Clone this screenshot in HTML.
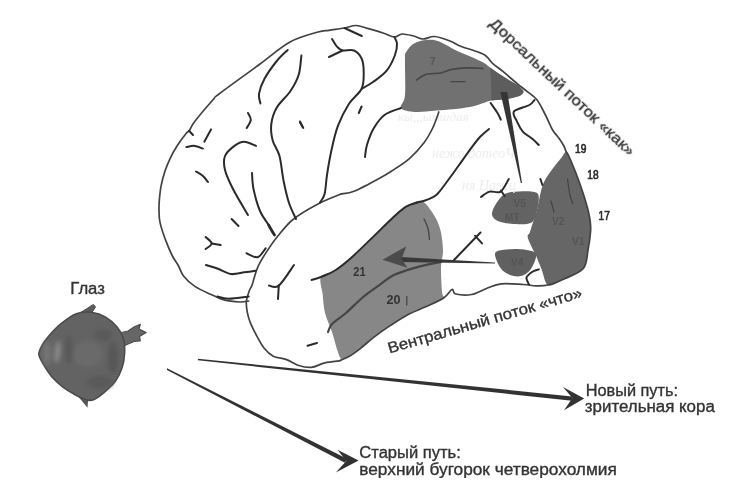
<!DOCTYPE html>
<html><head><meta charset="utf-8">
<style>
html,body{margin:0;padding:0;background:#fff;}
svg{display:block}
text{font-family:"Liberation Sans",sans-serif;fill:#333;stroke:#333;stroke-width:0.35}
.l{fill:none;stroke:#424242;stroke-width:1.7;stroke-linecap:round;stroke-linejoin:round}
.s{fill:none;stroke:#2c2c2c;stroke-width:2.0;stroke-linecap:round;stroke-linejoin:round}
.d{fill:none;stroke:#454545;stroke-width:1.3;stroke-linecap:round;stroke-linejoin:round}
.n{font-size:12px;fill:#2e2e2e;stroke:#2e2e2e;stroke-width:0.7}
.m{font-size:12.8px;font-weight:bold;fill:#333;stroke:none}
.v{font-size:10px;font-weight:bold;fill:#555;stroke:none}
</style></head><body>
<svg width="731" height="490" viewBox="0 0 731 490">
<defs>
<radialGradient id="eg" cx="0.55" cy="0.5" r="0.6">
<stop offset="0" stop-color="#5e5e5e"/><stop offset="0.7" stop-color="#505050"/><stop offset="1" stop-color="#6a6a6a"/>
</radialGradient>
<filter id="bl" x="-5%" y="-5%" width="110%" height="110%"><feGaussianBlur stdDeviation="0.6"/></filter>
<filter id="bl3" x="-30%" y="-30%" width="160%" height="160%"><feGaussianBlur stdDeviation="2.2"/></filter>
<filter id="bl2" x="-5%" y="-5%" width="110%" height="110%"><feGaussianBlur stdDeviation="0.45"/></filter>
</defs>
<rect width="731" height="490" fill="#fff"/>

<g filter="url(#bl)">
<path fill="#717171" d="M406.5,51.5 C408.3,48.6 411.2,44.4 416.0,42.5 C420.8,40.6 428.1,38.9 435.0,40.3 C441.9,41.7 450.5,47.9 457.3,51.0 C464.1,54.1 471.4,56.9 476.0,59.0 C480.6,61.1 482.7,62.1 485.0,63.5 C487.3,64.9 487.7,65.8 490.0,67.5 C492.3,69.2 495.3,71.4 498.6,73.6 C501.9,75.8 506.7,78.7 510.0,80.7 C513.3,82.7 516.3,83.9 518.6,85.7 C520.9,87.5 523.4,89.7 523.6,91.4 C523.8,93.1 523.0,94.4 520.0,95.7 C517.0,97.0 510.5,98.5 505.7,99.3 C500.9,100.1 497.3,99.2 491.4,100.5 C485.4,101.8 479.1,105.3 470.0,107.0 C460.9,108.7 446.0,109.8 436.8,110.6 C427.6,111.4 421.0,112.4 415.0,112.0 C409.0,111.6 402.7,110.7 401.0,108.0 C399.3,105.3 404.3,103.6 405.0,95.6 C405.7,87.6 404.8,67.3 405.0,60.0 C405.2,52.6 404.7,54.4 406.5,51.5 Z"/>
<path fill="#878787" d="M321.0,277.0 C323.1,273.1 330.0,273.7 335.0,270.5 C340.0,267.3 345.1,263.2 351.0,258.0 C356.9,252.8 363.5,246.2 370.5,239.4 C377.5,232.7 387.1,223.0 393.0,217.5 C398.9,212.0 401.3,209.3 406.0,206.6 C410.7,203.8 416.7,200.1 421.0,201.0 C425.3,201.9 428.8,207.4 432.0,212.0 C435.2,216.6 438.2,222.2 440.0,228.5 C441.8,234.8 442.8,243.6 443.0,250.0 C443.2,256.4 441.2,260.0 441.0,267.0 C440.8,274.0 441.7,286.7 442.0,292.0 C442.3,297.3 445.7,296.5 443.0,299.0 C440.3,301.5 431.6,304.2 425.7,306.8 C419.8,309.4 413.7,311.5 407.7,314.7 C401.7,317.9 395.4,322.2 389.8,325.9 C384.2,329.6 378.9,333.4 374.0,337.1 C369.1,340.8 364.7,345.1 360.6,348.3 C356.5,351.5 352.6,354.4 349.4,356.2 C346.2,358.0 343.5,359.9 341.5,359.0 C339.5,358.1 339.2,355.5 337.6,351.0 C336.0,346.5 334.1,338.3 332.0,332.0 C329.9,325.7 326.6,319.4 325.0,313.0 C323.4,306.6 323.3,299.8 322.6,293.8 C321.9,287.8 318.9,280.9 321.0,277.0 Z"/>
<path fill="#666666" d="M566.0,151.4 C567.4,151.1 567.5,153.3 569.0,156.5 C570.5,159.7 573.0,165.7 575.0,170.8 C577.0,175.9 579.0,181.2 581.0,187.0 C583.0,192.8 585.3,200.0 586.8,205.5 C588.3,211.0 589.4,215.6 590.0,219.8 C590.6,224.1 590.9,226.0 590.6,231.0 C590.3,236.0 589.2,243.8 588.0,250.0 C586.8,256.2 587.3,263.7 583.3,268.5 C579.3,273.3 569.8,276.2 564.0,279.0 C558.2,281.8 552.1,287.1 548.4,285.5 C544.7,283.9 543.7,274.3 541.6,269.4 C539.5,264.4 538.3,261.0 536.0,255.8 C533.7,250.6 528.9,242.0 527.9,238.0 C526.9,234.0 529.0,235.1 530.0,232.0 C531.0,228.9 532.8,223.0 534.0,219.3 C535.2,215.6 536.2,213.1 537.0,210.0 C537.8,206.9 538.2,204.2 538.9,201.0 C539.6,197.8 540.1,194.3 541.0,191.0 C541.9,187.7 542.6,184.7 544.5,181.0 C546.4,177.3 549.9,172.5 552.6,168.8 C555.3,165.1 558.6,161.5 560.8,158.6 C563.0,155.7 564.6,151.8 566.0,151.4 Z"/>
<path fill="#646464" d="M492.0,214.7 C491.5,211.7 493.9,207.2 496.0,203.8 C498.1,200.4 500.9,196.1 504.6,194.0 C508.3,191.9 513.0,191.8 518.0,191.5 C523.0,191.2 531.2,190.9 534.7,192.0 C538.2,193.1 538.6,194.2 538.8,198.0 C539.0,201.8 537.4,210.5 536.0,214.7 C534.6,218.9 534.0,221.4 530.6,223.0 C527.2,224.6 520.9,224.2 515.6,224.0 C510.3,223.8 502.9,223.2 499.0,221.6 C495.1,220.0 492.5,217.7 492.0,214.7 Z"/>
<path fill="#606060" d="M495.0,254.0 C495.2,251.0 498.2,250.8 502.0,250.0 C505.8,249.2 512.8,248.7 518.0,249.0 C523.2,249.3 530.0,250.3 533.0,251.6 C536.0,252.9 536.4,254.0 536.0,257.0 C535.6,260.0 533.1,266.2 530.6,269.4 C528.1,272.6 524.4,275.1 521.0,276.0 C517.6,276.9 513.4,276.3 510.0,275.0 C506.6,273.7 503.0,271.5 500.5,268.0 C498.0,264.5 494.8,257.0 495.0,254.0 Z"/>
</g>
<g filter="url(#bl)" style="font-family:Liberation Serif,serif;font-style:italic;font-size:13px;fill:#eeeeee;stroke:none"><text x="398" y="121" style="font-family:Liberation Serif;font-style:italic;font-size:13px;fill:#ededed;stroke:none">кы,,,ымшдая</text><text x="432" y="158" style="font-family:Liberation Serif;font-style:italic;font-size:14px;fill:#ededed;stroke:none">нежо  дотеоЧ</text><text x="462" y="190" style="font-family:Liberation Serif;font-style:italic;font-size:14px;fill:#ededed;stroke:none">ня Цажц</text></g><path fill="#5d5d5d" filter="url(#bl)" d="M490,67.5 L498.6,73.6 L510,80.7 L518.6,85.7 L523.6,91.4 L520,95.7 L505.7,99.3 L491.4,100.5 L491,80 Z"/>
<g filter="url(#bl2)">
<path class="l" d="M248.7,301.0 C247.2,301.2 243.9,302.2 239.8,302.0 C235.7,301.8 228.9,301.2 224.0,299.9 C219.1,298.6 215.4,296.6 210.6,294.3 C205.8,292.1 199.4,289.4 194.9,286.4 C190.4,283.4 186.5,279.9 183.7,276.3 C180.9,272.7 179.9,268.4 178.0,265.0 C176.1,261.6 174.5,260.1 172.4,256.0 C170.3,251.9 167.8,246.0 165.7,240.4 C163.6,234.8 161.1,227.5 160.0,222.4 C158.9,217.3 159.1,214.1 159.0,210.0 C158.9,205.9 159.1,202.1 159.5,198.0 C159.9,193.9 160.3,189.8 161.2,185.3 C162.1,180.8 163.5,175.5 165.0,171.0 C166.5,166.5 168.2,162.5 170.2,158.3 C172.2,154.1 174.4,150.1 177.0,146.0 C179.6,141.9 183.8,136.3 185.9,133.7 C188.0,131.1 188.0,132.4 189.5,130.3 C191.0,128.2 191.0,126.3 194.9,121.3 C198.8,116.2 208.8,104.5 212.8,100.0 C216.8,95.5 211.1,100.0 219.0,94.0 C226.9,88.0 248.2,72.7 260.0,64.0 C271.8,55.3 280.3,47.3 290.0,42.0 C299.7,36.7 311.5,34.0 318.0,32.0 C324.5,30.1 324.6,31.0 329.0,30.3 C333.4,29.6 340.0,28.8 344.5,28.0 C349.0,27.2 352.2,25.4 356.0,25.5 C359.8,25.6 363.0,27.1 367.5,28.4 C372.0,29.6 378.5,31.6 383.0,33.0 C387.5,34.4 391.2,36.8 394.4,37.0 C397.6,37.2 398.8,34.2 402.0,34.0 C405.2,33.8 410.1,35.2 413.6,36.0 C417.1,36.8 419.5,38.9 423.0,39.0 C426.5,39.1 430.2,36.2 434.7,36.5 C439.2,36.8 445.8,39.4 450.0,41.0 C454.2,42.6 455.8,44.3 460.0,46.0 C464.2,47.7 470.7,49.4 475.0,51.0 C479.3,52.6 482.7,53.6 485.7,55.7 C488.7,57.8 490.0,61.0 492.9,63.6 C495.8,66.2 498.9,68.1 502.9,71.4 C506.9,74.7 513.1,80.3 517.1,83.6 C521.1,86.9 523.8,88.7 527.1,91.4 C530.4,94.1 534.0,96.0 537.1,100.0 C540.2,104.0 543.1,110.5 545.7,115.5 C548.3,120.5 550.4,126.2 552.6,130.0 C554.8,133.8 556.9,135.3 558.8,138.0 C560.7,140.7 562.7,143.8 563.9,146.0 C565.1,148.2 565.1,149.7 566.0,151.4 C566.9,153.2 567.5,153.3 569.0,156.5 C570.5,159.7 573.0,165.7 575.0,170.8 C577.0,175.9 579.0,181.2 581.0,187.0 C583.0,192.8 585.3,200.0 586.8,205.5 C588.3,211.0 589.4,215.6 590.0,219.8 C590.6,224.1 590.9,226.0 590.6,231.0 C590.3,236.0 589.2,243.8 588.0,250.0 C586.8,256.2 587.3,263.7 583.3,268.5 C579.3,273.3 569.9,276.2 564.0,279.0 C558.1,281.8 552.7,283.9 548.0,285.0 C543.3,286.1 539.9,285.9 535.8,285.8 C531.7,285.7 529.1,284.8 523.4,284.5 C517.6,284.2 507.4,283.1 501.3,283.8 C495.2,284.5 491.4,286.7 486.5,288.5 C481.6,290.3 476.8,293.6 471.7,294.5 C466.6,295.4 459.0,294.8 455.7,294.0 C452.4,293.2 454.0,288.8 452.0,289.5 C450.0,290.2 448.0,295.1 443.6,298.0 C439.2,300.9 431.7,304.0 425.7,306.8 C419.7,309.6 413.7,311.5 407.7,314.7 C401.7,317.9 395.4,322.2 389.8,325.9 C384.2,329.6 378.9,333.4 374.0,337.1 C369.1,340.8 364.7,345.1 360.6,348.3 C356.5,351.5 352.8,354.2 349.4,356.2 C346.0,358.2 342.0,359.5 340.5,360.2"/>
<path class="l" d="M341.0,194.0 C337.2,195.7 325.9,199.8 318.0,204.0 C310.1,208.2 300.3,213.7 293.6,219.0 C286.9,224.3 282.4,230.6 277.9,236.0 C273.4,241.4 270.1,246.4 266.7,251.6 C263.3,256.8 260.1,261.7 257.7,267.3 C255.2,272.9 253.3,281.5 252.0,285.3 C250.7,289.1 250.5,287.4 249.6,290.0 C248.7,292.6 246.8,297.5 246.4,301.2 C246.0,304.9 246.6,308.6 247.3,312.4 C248.0,316.1 249.0,319.6 250.7,323.7 C252.4,327.8 255.1,333.0 257.4,337.1 C259.6,341.2 261.6,345.1 264.2,348.3 C266.8,351.5 269.5,354.3 273.2,356.2 C276.9,358.1 282.5,358.1 286.6,359.6 C290.7,361.1 293.7,363.9 297.8,365.2 C301.9,366.5 306.8,367.8 311.3,367.4 C315.8,367.0 319.9,364.0 324.8,362.9 C329.7,361.8 337.9,361.1 340.5,360.7"/>
<path class="l" d="M341.0,194.0 C343.3,193.5 348.2,193.7 354.7,191.0 C361.2,188.3 373.8,181.4 380.0,178.0 C386.2,174.6 387.1,174.0 392.0,170.8 C396.9,167.6 404.1,163.3 409.4,158.6 C414.7,153.9 420.1,147.8 424.0,142.7 C427.9,137.6 430.2,133.1 432.7,128.0 C435.2,122.9 437.8,114.7 438.8,112.0"/>
<path class="s" d="M344.5,28.0 L361.8,36.0"/>
<path class="s" d="M394.4,37.0 C394.8,38.1 396.9,40.8 397.0,43.8 C397.1,46.8 396.7,50.5 395.0,55.0 C393.3,59.5 390.4,66.1 386.7,70.6 C383.0,75.1 377.1,79.0 373.0,82.0 C368.9,85.0 363.7,87.7 361.8,88.8"/>
<path class="s" d="M332.0,39.0 C332.8,40.3 335.2,44.7 337.0,46.6 C338.8,48.5 339.8,49.9 342.6,50.5 C345.4,51.1 350.8,49.1 354.0,50.5 C357.2,51.9 360.2,55.3 361.8,59.0 C363.4,62.7 363.7,67.5 363.7,72.5 C363.7,77.5 364.1,83.5 361.6,88.7 C359.2,93.9 352.9,97.6 349.0,103.8 C345.1,110.0 340.9,118.0 338.0,125.7 C335.1,133.4 333.3,141.8 331.5,150.0 C329.7,158.2 328.1,167.7 327.0,175.0 C325.9,182.3 325.8,189.4 324.6,194.0 C323.4,198.6 320.8,201.1 320.0,202.5"/>
<path class="s" d="M342.6,50.5 L329.0,57.0"/>
<path class="s" d="M361.6,106.5 L358.8,113.0"/>
<path class="s" d="M401.0,108.0 C398.3,109.1 389.3,111.4 384.8,114.7 C380.3,118.0 376.9,123.0 373.9,128.0 C370.9,133.0 368.5,140.0 367.0,144.8 C365.5,149.6 365.3,155.0 365.0,157.0"/>
<path class="s" d="M489.0,129.0 C487.6,130.2 483.5,133.2 480.4,136.5 C477.3,139.8 474.3,143.9 470.6,148.8 C466.9,153.7 462.5,160.3 458.4,166.0 C454.3,171.7 449.7,178.2 446.0,183.0 C442.3,187.8 439.6,192.2 436.3,195.0 C433.1,197.8 429.8,198.7 426.5,200.0 C423.2,201.3 418.3,202.2 416.7,202.7"/>
<path class="s" d="M490.6,103.0 C491.8,104.8 496.1,110.7 497.8,113.5 C499.5,116.3 500.3,118.6 500.8,119.6"/>
<path class="s" d="M534.5,100.0 C533.6,100.8 532.8,103.1 529.4,105.0 C526.0,106.9 516.1,108.6 514.0,111.4 C511.9,114.2 515.5,118.2 517.0,121.6 C518.5,125.0 520.5,129.0 523.0,131.8 C525.5,134.6 529.4,136.3 532.0,138.5 C534.6,140.7 537.7,143.9 538.8,145.0"/>
<path class="s" d="M481.0,197.0 C482.4,196.1 486.3,192.5 489.6,191.6 C492.9,190.7 497.4,193.7 500.6,191.6 C503.8,189.5 507.4,181.1 508.8,179.0"/>
<path class="s" d="M500.9,190.5 L504.6,196.0"/>
<path class="s" d="M454.0,260.0 L480.5,232.5"/>
<path class="s" d="M475.0,235.7 L482.0,243.4"/>
<path class="s" d="M529.0,284.5 C528.6,283.4 526.0,279.7 526.5,277.6 C527.0,275.5 530.0,273.4 532.0,272.0 C534.0,270.6 537.7,269.8 538.8,269.4"/>
<path class="s" d="M287.7,50.0 C285.9,51.8 280.7,56.2 276.8,61.0 C272.9,65.8 267.5,73.3 264.5,78.8 C261.5,84.3 259.7,89.8 259.0,93.9 C258.3,98.0 260.2,101.8 260.4,103.4"/>
<path class="s" d="M301.4,55.6 C300.9,58.8 300.5,68.8 298.7,74.7 C296.9,80.6 294.1,85.5 290.5,91.0 C286.9,96.5 280.0,102.0 276.8,107.5 C273.6,113.0 272.0,118.5 271.3,124.0 C270.6,129.5 271.3,135.1 272.7,140.4 C274.1,145.7 277.7,149.2 279.5,156.0 C281.3,162.8 282.0,173.2 283.6,181.0 C285.2,188.8 286.9,196.7 289.0,203.0 C291.1,209.3 294.8,216.3 296.0,219.0"/>
<path class="s" d="M248.0,113.0 C248.5,114.2 251.0,117.4 250.8,119.9 C250.6,122.4 247.4,126.7 246.7,128.0"/>
<path class="s" d="M300.0,122.6 L303.3,128.0"/>
<path class="s" d="M211.0,129.4 L204.3,141.7"/>
<path class="s" d="M189.0,130.8 L193.0,135.0"/>
<path class="s" d="M186.5,147.0 C187.9,146.8 191.9,145.6 194.7,145.9 C197.4,146.2 201.6,148.2 203.0,148.6"/>
<path class="s" d="M196.0,171.5 C197.2,172.2 201.0,174.2 203.0,176.0 C205.0,177.8 207.2,181.0 208.0,182.0"/>
<path class="s" d="M248.0,215.0 C245.5,210.7 236.8,196.5 233.0,189.0 C229.2,181.5 226.3,175.5 225.0,170.0 C223.7,164.5 223.4,160.0 225.0,156.0 C226.6,152.0 231.2,148.3 234.4,145.9 C237.6,143.5 240.4,141.8 244.0,141.8 C247.6,141.8 254.0,145.2 256.0,145.9"/>
<path class="s" d="M252.0,173.0 C252.2,175.7 252.2,182.7 253.5,189.0 C254.8,195.3 257.5,205.0 260.0,211.0 C262.5,217.0 266.3,221.2 268.6,225.0 C270.9,228.8 273.1,232.5 274.0,234.0"/>
<path class="s" d="M231.6,219.0 L238.5,226.0"/>
<path class="s" style="stroke-width:2.8" d="M268.6,225.0 C269.2,226.0 271.0,229.3 272.0,231.0 C273.0,232.7 274.1,234.3 274.5,235.0"/>
<path class="s" d="M540.4,179.0 L542.4,185.0"/>
<path class="s" d="M205.6,237.0 C206.6,238.1 211.7,241.4 211.7,243.4 C211.7,245.4 206.6,248.1 205.6,249.0"/>
<path class="s" d="M211.7,243.4 L220.7,245.0"/>
<path class="s" d="M246.5,253.2 C248.4,253.9 254.5,258.0 257.7,257.2 C260.9,256.4 264.3,249.8 265.6,248.3"/>
<path class="s" style="stroke-width:2.1" d="M206.0,265.0 C207.9,265.6 213.2,267.0 217.3,268.5 C221.4,270.0 226.3,273.4 230.8,274.0 C235.3,274.6 240.2,272.9 244.3,272.3 C248.4,271.8 253.6,271.0 255.5,270.7"/>
<path class="s" d="M217.3,296.5 C219.2,296.9 223.3,298.7 228.5,298.7 C233.7,298.7 245.3,296.9 248.7,296.5"/>
<path class="s" d="M269.0,285.6 C270.6,285.6 274.6,289.0 278.8,285.6 C283.0,282.2 291.5,268.4 294.0,265.0"/>
<path class="s" d="M278.8,285.6 L278.0,299.0"/>
<path class="s" d="M307.5,345.8 L317.0,343.0"/>
<path class="s" d="M311.6,280.0 C313.2,279.5 317.1,278.6 321.0,277.0 C324.9,275.4 330.0,273.7 335.0,270.5 C340.0,267.3 345.1,263.2 351.0,258.0 C356.9,252.8 363.5,246.2 370.5,239.4 C377.5,232.7 387.1,223.0 393.0,217.5 C398.9,212.0 402.1,209.1 406.0,206.6 C409.9,204.1 414.9,203.3 416.7,202.7"/>
<path class="s" d="M300.0,121.5 L302.7,127.0"/>
<path class="d" style="stroke-width:1.6" d="M416.5,80.1 C418.0,79.2 421.6,75.7 425.7,74.5 C429.8,73.3 436.8,73.8 441.0,73.0 C445.2,72.2 446.8,70.3 451.2,69.5 C455.6,68.7 462.3,68.1 467.6,67.9 C472.9,67.7 480.3,68.4 482.9,68.5"/>
<path class="d" d="M451.0,81.7 L465.0,81.7"/>
<path class="d" style="stroke-width:2.2" d="M328.0,332.0 C328.7,330.7 329.0,327.2 332.0,324.0 C335.0,320.8 341.0,317.3 346.0,313.0 C351.0,308.7 356.6,302.6 362.0,298.0 C367.4,293.4 373.2,289.5 378.7,285.6 C384.2,281.7 388.1,277.8 395.0,274.6 C401.9,271.4 412.3,268.5 420.0,266.4 C427.7,264.3 437.5,262.7 441.0,262.0"/>
<path class="d" d="M424.0,219.0 C424.7,220.6 427.1,225.1 428.0,228.5 C428.9,231.9 429.2,237.6 429.4,239.4"/>
<path class="d" d="M567.5,179.0 C567.9,181.8 569.1,191.4 570.0,195.5 C570.9,199.6 572.5,202.4 573.0,203.8"/>
<path class="d" d="M551.0,201.0 L554.0,212.0"/>
<path class="d" d="M406.8,296.5 L406.8,305.0"/>
</g>
<g id="arrows" fill="#333" filter="url(#bl2)">
<path d="M500.3,92 L507.3,92 L522,183 L520.8,183 Z" fill="#363636"/>
<path d="M495,262.4 L401,256.9 L401,262 L495,263.6 Z" fill="#383838"/>
<path d="M382.5,259.7 L406.4,246.3 L401.6,258.7 L407.4,267.8 Z" fill="#4c4c4c"/>
<path d="M197.9,358.7 L572,396.4 L572,400.8 L197.9,360.3 Z"/>
<path d="M584.2,398.4 L563,387 L572.4,398 L564,410.3 Z"/>
<path d="M167,368.3 L347,458.8 L345,462.8 L167,369.9 Z"/>
<path d="M358.6,460.4 L337.5,449.8 L346.3,461 L335.8,472.4 Z"/>
</g>
<g id="eye">
<g filter="url(#bl)">
<path fill="#5c5c5c" stroke="#4a4a4a" stroke-width="1" d="M70,320 L80,313 L93.4,304.4 L95.5,307 L91,314 L84,318 Z"/>
<path fill="#666" stroke="#4d4d4d" stroke-width="1.2" stroke-linejoin="round" d="M119.5,333 L128,331 L134,327 L140.3,324.3 L139,329 L146.2,332.6 L139.5,336.5 L140.3,340.8 L134,341.5 L127,344.5 L122.5,346.5 Z"/>
<path fill="#585858" d="M79,397.5 L87.5,407.7 L88,401.4 L92,396 Z"/>
<path fill="#636363" stroke="#4c4c4c" stroke-width="1.6" d="M38.9,352.9 C39.3,350.7 40.7,347.7 42.3,344.9 C43.9,342.1 46.1,339.3 48.6,336.3 C51.1,333.3 54.0,330.0 57.1,327.1 C60.2,324.2 63.8,321.4 67.1,319.1 C70.4,316.8 73.0,314.5 77.1,313.4 C81.1,312.3 86.6,311.7 91.4,312.3 C96.2,312.9 101.4,314.6 105.7,317.1 C110.0,319.6 114.1,323.5 117.1,327.1 C120.0,330.7 122.2,334.3 123.4,338.6 C124.7,342.9 124.8,348.1 124.6,352.9 C124.4,357.6 123.8,362.4 122.3,367.1 C120.8,371.8 118.7,376.7 115.7,380.9 C112.7,385.1 108.1,389.1 104.3,392.3 C100.5,395.5 96.2,398.9 92.9,400.0 C89.6,401.1 87.4,400.1 84.3,399.1 C81.2,398.2 77.9,396.3 74.3,394.3 C70.7,392.3 66.5,389.8 62.9,387.1 C59.3,384.4 55.9,381.3 52.9,378.0 C49.9,374.7 47.2,370.4 45.1,367.1 C43.0,363.8 41.0,360.4 40.0,358.0 C39.0,355.6 38.5,355.1 38.9,352.9 Z"/>
</g>
<g filter="url(#bl3)">
<ellipse cx="57.5" cy="352" rx="3" ry="11" fill="#8a8a8a" transform="rotate(6 57.5 352)"/>
<ellipse cx="47" cy="353" rx="4" ry="12" fill="#757575"/>
<ellipse cx="88" cy="354" rx="15" ry="13" fill="#6a6a6a"/>
<ellipse cx="103" cy="335" rx="10" ry="6" fill="#5a5a5a"/>
<ellipse cx="100" cy="382" rx="13" ry="7" fill="#5a5a5a"/>
<ellipse cx="69" cy="350" rx="4" ry="14" fill="#585858"/>
<ellipse cx="113" cy="358" rx="5" ry="16" fill="#575757"/>
</g>
</g>
<g id="labels" filter="url(#bl2)">
<text x="70.3" y="294.4" font-size="16" textLength="34.5" lengthAdjust="spacingAndGlyphs">Глаз</text>
<text x="585.7" y="395.8" font-size="16" textLength="92.3" lengthAdjust="spacingAndGlyphs">Новый путь:</text>
<text x="584.8" y="412.4" font-size="16" textLength="130" lengthAdjust="spacingAndGlyphs">зрительная кора</text>
<text x="359.3" y="457.6" font-size="16" textLength="101.5" lengthAdjust="spacingAndGlyphs">Старый путь:</text>
<text x="359.3" y="474.6" font-size="16" textLength="257.5" lengthAdjust="spacingAndGlyphs">верхний бугорок четверохолмия</text>
<text transform="translate(488.7,24.4) rotate(43.3)" font-size="15.5" textLength="193" lengthAdjust="spacingAndGlyphs">Дорсальный поток «как»</text>
<text transform="translate(389.5,353.5) rotate(-16.2)" font-size="15.5" textLength="201.5" lengthAdjust="spacingAndGlyphs">Вентральный поток «что»</text>
<text class="n" x="575" y="152.6" textLength="11.3" lengthAdjust="spacingAndGlyphs">19</text>
<text class="n" x="587.3" y="178.6" textLength="11.3" lengthAdjust="spacingAndGlyphs">18</text>
<text class="n" x="598.6" y="220" textLength="11.3" lengthAdjust="spacingAndGlyphs">17</text>
<text class="m" x="353.3" y="275.9" textLength="12.3" lengthAdjust="spacingAndGlyphs">21</text>
<text class="m" x="386.5" y="304.1" textLength="14" lengthAdjust="spacingAndGlyphs">20</text>
</g><g filter="url(#bl)">
<text class="v" x="430" y="64.5">7</text>
<text class="v" x="552" y="225">V2</text>
<text class="v" x="572" y="245">V1</text>
<text class="v" x="505" y="221">MT</text>
<text class="v" x="513.5" y="207">V5</text>
<text class="v" x="511" y="265.5">V4</text>
</g>
</svg>
</body></html>
